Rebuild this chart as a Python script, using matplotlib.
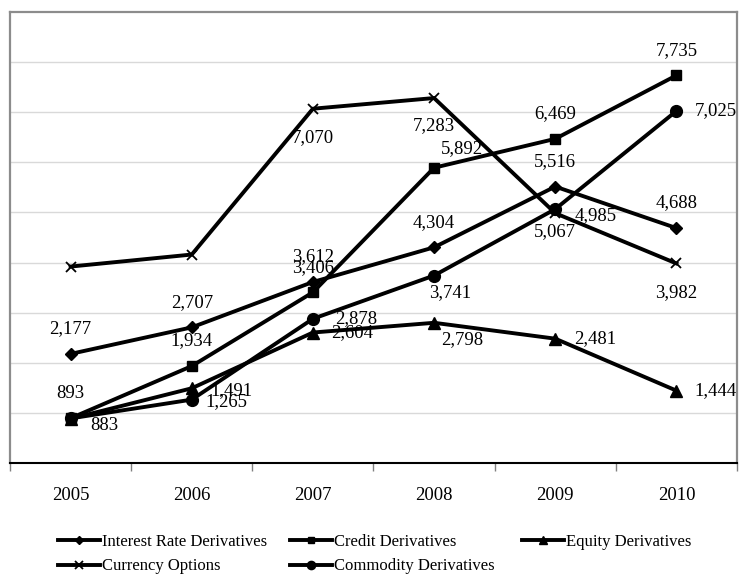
import matplotlib
matplotlib.use("Agg")
import matplotlib.pyplot as plt
from matplotlib.ticker import FixedLocator, NullFormatter

plt.rcParams["font.family"] = ["Liberation Serif", "DejaVu Serif"]

years = ["2005", "2006", "2007", "2008", "2009", "2010"]

interest_rate = [2177, 2707, 3612, 4304, 5516, 4688]
credit = [893, 1934, 3406, 5892, 6469, 7735]
equity = [883, 1491, 2604, 2798, 2481, 1444]
currency = [3920, 4160, 7070, 7283, 4985, 3982]
commodity = [890, 1265, 2878, 3741, 5067, 7025]

names = ["Interest Rate Derivatives", "Credit Derivatives", "Equity Derivatives",
         "Currency Options", "Commodity Derivatives"]
series = [interest_rate, credit, equity, currency, commodity]

# marker style per series: (marker, size, edge width)
markers = [("D", 5.8, 1.0), ("s", 7.0, 1.0), ("^", 8.5, 1.0), ("x", 7.5, 1.3), ("o", 8.5, 1.0)]

# label offsets in pixels (dx, dy up); None = no label
A = (0, 25)
label_offsets = [
    [A, A, A, A, A, A],
    [A, A, A, (28, 19), A, A],
    [(34, -7), (40, -2), (39, 0), (28, -17), (40, 0), (39, 0)],
    [None, None, (0, -29), (0, -28), (40, -2), (0, -29)],
    [None, (35, -2), (43, 0), (16, -17), (0, -23), (39, 0)],
]

W, H = 739, 575
fig = plt.figure(figsize=(W / 100, H / 100), dpi=100)
ax = fig.add_axes([10 / W, 1 - 463 / H, 727 / W, 451 / H])

x = list(range(len(years)))
lines = []
for vals, name, (mk, ms, mew), offs in zip(series, names, markers, label_offsets):
    ln, = ax.plot(x, vals, color="black", lw=2.8, marker=mk, ms=ms, mew=mew,
                  mfc="black", mec="black", label=name, solid_joinstyle="miter",
                  clip_on=False, zorder=3)
    lines.append(ln)
    for xi, v, off in zip(x, vals, offs):
        if off is None:
            continue
        ax.annotate(f"{v:,}", (xi, v), xytext=(off[0] * 0.72, off[1] * 0.72),
                    textcoords="offset points", ha="center", va="center",
                    fontsize=13.5, color="black", zorder=4)

ax.set_xlim(-0.5, len(years) - 0.5)
ax.set_ylim(0, 9000)
ax.set_yticks(range(1000, 9000, 1000))
ax.yaxis.grid(True, color="#d9d9d9", lw=1.0)
ax.set_axisbelow(True)
ax.tick_params(axis="y", length=0, labelleft=False)

ax.set_xticks(x)
ax.set_xticklabels(years, fontsize=13.5)
ax.tick_params(axis="x", which="major", length=0, pad=17)
ax.xaxis.set_minor_locator(FixedLocator([i - 0.5 for i in range(len(years) + 1)]))
ax.xaxis.set_minor_formatter(NullFormatter())
ax.tick_params(axis="x", which="minor", length=5.5, width=1.0, color="#808080")

for side in ("top", "left", "right"):
    ax.spines[side].set_color("#8c8c8c")
    ax.spines[side].set_linewidth(1.6)
ax.spines["bottom"].set_color("black")
ax.spines["bottom"].set_linewidth(1.5)

# legend laid out as three columns: IR / Currency, Credit / Commodity, Equity
columns = [[0, 3], [1, 4], [2]]
col_left = [58, 290, 522]
for idx, left in zip(columns, col_left):
    fig.legend([lines[i] for i in idx], [names[i] for i in idx],
               loc="upper left", bbox_to_anchor=(left / W, 1 - 534 / H),
               ncol=1, frameon=False, fontsize=12, borderpad=0,
               borderaxespad=0, handlelength=2.5, handletextpad=0.12,
               labelspacing=0.5, markerscale=0.7)

fig.savefig("out.png", dpi=100)
